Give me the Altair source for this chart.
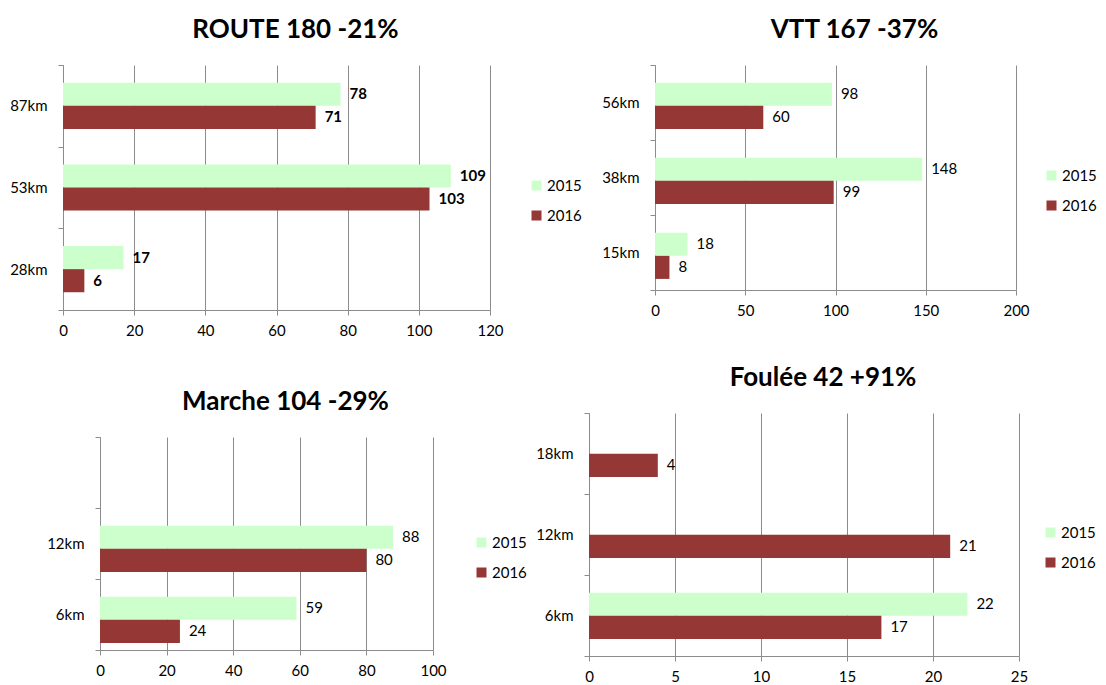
import altair as alt
import pandas as pd

FONT = "Lato"
GREEN = "#CCFFCC"
RED = "#953735"
GRAY = "#8c8c8c"
FS = 15

years = ["2015", "2016"]

route_cats = ["87km", "53km", "28km"]
route_2015 = [78, 109, 17]
route_2016 = [71, 103, 6]

vtt_cats = ["56km", "38km", "15km"]
vtt_2015 = [98, 148, 18]
vtt_2016 = [60, 99, 8]

marche_cats = ["", "12km", "6km"]
marche_2015 = [None, 88, 59]
marche_2016 = [None, 80, 24]

foulee_cats = ["18km", "12km", "6km"]
foulee_2015 = [None, None, 22]
foulee_2016 = [4, 21, 17]


def make_df(cats, v15, v16):
    rows = []
    for c, a, b in zip(cats, v15, v16):
        if a is not None:
            rows.append({"dist": c, "year": "2015", "value": a})
        if b is not None:
            rows.append({"dist": c, "year": "2016", "value": b})
    return pd.DataFrame(rows)


def spacer(w, h):
    # invisible layout spacer (no visible mark)
    return alt.Chart(pd.DataFrame({"s": [0]})).mark_point(
        size=0, opacity=0).properties(width=w, height=h)


def panel(title, cats, v15, v16, xmax, xstep, plot_w, plot_h, y_extent,
          legend_xy, bold=False):
    df = make_df(cats, v15, v16)
    base = alt.Chart(df).encode(
        y=alt.Y("dist:N",
                scale=alt.Scale(domain=cats, paddingInner=0, paddingOuter=0),
                axis=alt.Axis(title=None, tickBand="extent", grid=False,
                              domainColor=GRAY, tickColor=GRAY, tickSize=5,
                              labelPadding=11, labelFont=FONT, labelFontSize=FS,
                              labelColor="black", minExtent=y_extent)),
        yOffset=alt.YOffset("year:N",
                            scale=alt.Scale(domain=years, paddingInner=0,
                                            paddingOuter=0.77)),
        x=alt.X("value:Q",
                scale=alt.Scale(domain=[0, xmax], nice=False, zero=True),
                axis=alt.Axis(title=None, values=list(range(0, xmax + 1, xstep)),
                              grid=True, gridColor=GRAY, domainColor=GRAY,
                              tickColor=GRAY, tickSize=5, labelPadding=8,
                              labelFont=FONT, labelFontSize=FS, labelColor="black",
                              labelFlush=False, labelOverlap=False,
                              minExtent=28)),
    )
    bars = base.mark_bar().encode(
        color=alt.Color("year:N",
                        scale=alt.Scale(domain=years, range=[GREEN, RED]),
                        legend=alt.Legend(orient="none", legendX=legend_xy[0],
                                          legendY=legend_xy[1], title=None,
                                          symbolType="square", symbolSize=100,
                                          symbolStrokeWidth=0, labelFont=FONT,
                                          labelFontSize=FS, labelColor="black",
                                          labelOffset=3, rowPadding=14, padding=0))
    )
    labels = base.mark_text(align="left", baseline="middle", dx=9, font=FONT,
                            fontSize=FS, fontWeight="bold" if bold else "normal",
                            color="black").encode(text="value:Q")
    return alt.layer(bars, labels).properties(
        width=plot_w, height=plot_h,
        title=alt.Title(text=title, font=FONT, fontSize=26, fontWeight="bold",
                        anchor="middle", frame="group", dx=19, offset=15,
                        color="black"))


p1 = panel("ROUTE 180 -21%", route_cats, route_2015, route_2016, 120, 20,
           427, 245, 54, (466, 113), bold=True)
p2 = panel("VTT 167 -37%", vtt_cats, vtt_2015, vtt_2016, 200, 50,
           361, 225, 73, (389, 103))
p3 = panel("Marche 104 -29%", marche_cats, marche_2015, marche_2016, 100, 20,
           333, 213, 91, (374, 98))
p4 = panel("Foulée 42 +91%", foulee_cats, foulee_2015, foulee_2016, 25, 5,
           430, 243, 62, (454, 112))

IND = dict(color="independent", x="independent", y="independent")

p3c = alt.vconcat(spacer(1, 34), p3, spacing=0).resolve_scale(**IND)
p4c = alt.vconcat(spacer(1, 10), p4, spacing=0).resolve_scale(**IND)

row1 = alt.hconcat(spacer(1, 1), p1, p2, spacing=0).resolve_scale(**IND)
row2 = alt.hconcat(spacer(1, 1), p3c, p4c, spacing=0).resolve_scale(**IND)

chart = alt.vconcat(row1, row2, spacing=17).resolve_scale(**IND).properties(
    padding={"left": 0, "top": 9, "right": 0, "bottom": 0}
).configure_view(stroke=None)

chart.save("out.html", embed_options={"renderer": "svg", "actions": False})
